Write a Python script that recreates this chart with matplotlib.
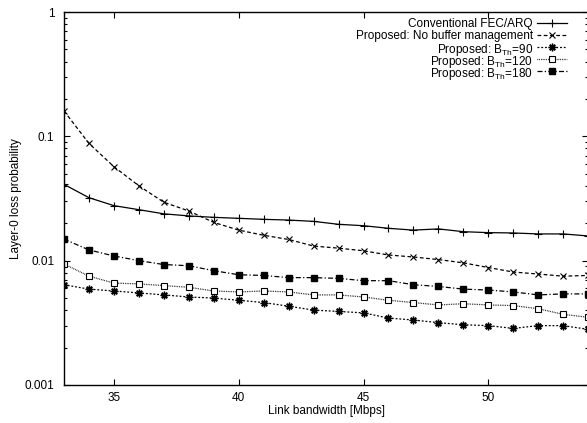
import numpy as np
import matplotlib
matplotlib.use("Agg")
import matplotlib.pyplot as plt
from matplotlib.ticker import FixedLocator, FixedFormatter, LogLocator, NullFormatter

plt.rcParams['font.family'] = ['Liberation Sans', 'DejaVu Sans']
plt.rcParams['mathtext.fontset'] = 'custom'
plt.rcParams['mathtext.rm'] = 'Liberation Sans'
plt.rcParams['mathtext.it'] = 'Liberation Sans'

# link bandwidth [Mbps]
bandwidth = list(range(33, 55))

conventional = [0.0411, 0.0321, 0.0277, 0.0257, 0.0238, 0.0229, 0.0223, 0.0219, 0.0215, 0.0212, 0.0207,
                0.0196, 0.0191, 0.0182, 0.0176, 0.0180, 0.0171, 0.0168, 0.0167, 0.0164, 0.0164, 0.0158]
no_buffer = [0.160, 0.0878, 0.057, 0.040, 0.0295, 0.0251, 0.0203, 0.0176, 0.0160, 0.0148, 0.0131,
             0.0126, 0.0120, 0.0111, 0.0107, 0.0102, 0.0096, 0.0088, 0.0081, 0.0078, 0.0075, 0.0076]
bth_90 = [0.0064, 0.0059, 0.0057, 0.0055, 0.0053, 0.0051, 0.0050, 0.0048, 0.0046, 0.0043, 0.0040,
          0.0039, 0.0038, 0.00345, 0.00333, 0.00317, 0.00305, 0.0030, 0.00285, 0.0030, 0.0030, 0.0028]
bth_120 = [0.0094, 0.0075, 0.0066, 0.0065, 0.0063, 0.0061, 0.0057, 0.0056, 0.0057, 0.0056, 0.0053,
           0.0053, 0.0051, 0.0048, 0.0046, 0.0044, 0.0045, 0.0044, 0.00435, 0.0041, 0.0037, 0.0035]
bth_180 = [0.0149, 0.0122, 0.0109, 0.0100, 0.0093, 0.0091, 0.0083, 0.0077, 0.0076, 0.0073, 0.0073,
           0.0072, 0.0069, 0.0069, 0.0064, 0.0062, 0.0059, 0.0058, 0.0056, 0.0053, 0.0054, 0.0054]

labels = ['Conventional FEC/ARQ',
          'Proposed: No buffer management',
          r'Proposed: B$_{\mathrm{Th}}$=90',
          r'Proposed: B$_{\mathrm{Th}}$=120',
          r'Proposed: B$_{\mathrm{Th}}$=180']
series = [conventional, no_buffer, bth_90, bth_120, bth_180]

xticks = [35, 40, 45, 50]
yticks = [0.001, 0.01, 0.1, 1]
ytick_labels = ['0.001', '0.01', '0.1', '1']

# gnuplot-like styles for each curve
styles = [
    dict(ls='-', marker='+', ms=5.5, mew=0.8),
    dict(ls=(0, (3, 2)), marker='x', ms=4.5, mew=0.8),
    dict(ls=(0, (1.5, 1.5)), marker=(8, 2, 0), ms=5.5, mew=1.0),
    dict(ls=(0, (0.6, 0.8)), marker='s', ms=4.2, mew=0.8, mfc='white'),
    dict(ls=(0, (4, 1.8, 1, 1.8)), marker='s', ms=4.6),
]

W, H = 587, 423
fig = plt.figure(figsize=(W / 100, H / 100), dpi=100)
ax = fig.add_axes([0.109, 0.09, 0.893, 0.8815])

for y, lab, st in zip(series, labels, styles):
    ax.plot(bandwidth, y, color='black', lw=0.9, label=lab, **st)

ax.set_yscale('log')
ax.set_xlim(33, 54)
ax.set_ylim(0.001, 1)

ax.xaxis.set_major_locator(FixedLocator(xticks))
ax.yaxis.set_major_locator(FixedLocator(yticks))
ax.yaxis.set_major_formatter(FixedFormatter(ytick_labels))
ax.yaxis.set_minor_locator(LogLocator(base=10, subs=np.arange(2, 10)))
ax.yaxis.set_minor_formatter(NullFormatter())

ax.tick_params(which='both', direction='in', top=True, right=True, labelsize=8.5, color='black')
ax.tick_params(which='major', length=4.5, width=0.8)
ax.tick_params(which='minor', length=2.5, width=0.8)
ax.tick_params(axis='y', pad=7)
ax.tick_params(axis='x', pad=5)
for s in ax.spines.values():
    s.set_linewidth(1.0)

ax.set_xlabel('Link bandwidth [Mbps]', fontsize=8.5, labelpad=1)
ax.set_ylabel('Layer-0 loss probability', fontsize=8.5, labelpad=2)

# legend drawn by hand, gnuplot style: text right-aligned, sample to the right
text_right = 533
line_x0, line_x1 = 537, 567
row_y0, row_dy = 23, 12
for i, (lab, st) in enumerate(zip(labels, styles)):
    yy = 1 - (row_y0 + i * row_dy) / H
    fig.text(text_right / W, yy, lab, ha='right', va='center_baseline', fontsize=8.5)
    fig.add_artist(plt.Line2D([line_x0 / W, line_x1 / W], [yy, yy], color='black', lw=0.9,
                              ls=st['ls'], transform=fig.transFigure))
    mst = {k: v for k, v in st.items() if k != 'ls'}
    fig.add_artist(plt.Line2D([(line_x0 + line_x1) / 2 / W], [yy], color='black', ls='none',
                              transform=fig.transFigure, **mst))

fig.savefig('out.png', dpi=100)
